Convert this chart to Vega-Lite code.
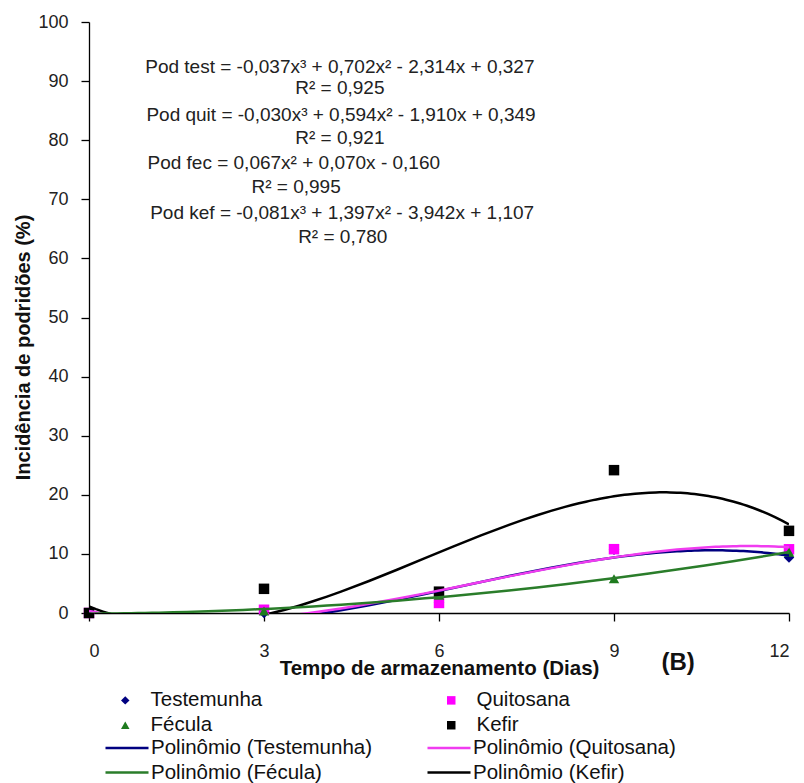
{
  "$schema": "https://vega.github.io/schema/vega-lite/v6.json",
  "width": 700,
  "height": 591,
  "autosize": {"type": "none"},
  "padding": {"left": 89, "top": 22, "right": 15, "bottom": 170},
  "background": "white",
  "config": {
    "view": {"stroke": null},
    "font": "Liberation Sans",
    "axis": {"grid": false, "domainColor": "#000", "tickColor": "#000", "labelColor": "#222", "titleColor": "#111", "domainWidth": 1.3, "tickWidth": 1.3}
  },
  "datasets": {
    "pontos": [
      {"tratamento": "Testemunha", "curva": "Polinômio (Testemunha)", "dia": 0, "podridao": 0},
      {"tratamento": "Testemunha", "curva": "Polinômio (Testemunha)", "dia": 3, "podridao": 0.02},
      {"tratamento": "Testemunha", "curva": "Polinômio (Testemunha)", "dia": 6, "podridao": 1.77},
      {"tratamento": "Testemunha", "curva": "Polinômio (Testemunha)", "dia": 9, "podridao": 10.7},
      {"tratamento": "Testemunha", "curva": "Polinômio (Testemunha)", "dia": 12, "podridao": 9.38},
      {"tratamento": "Quitosana", "curva": "Polinômio (Quitosana)", "dia": 0, "podridao": 0},
      {"tratamento": "Quitosana", "curva": "Polinômio (Quitosana)", "dia": 3, "podridao": 0.55},
      {"tratamento": "Quitosana", "curva": "Polinômio (Quitosana)", "dia": 6, "podridao": 1.7},
      {"tratamento": "Quitosana", "curva": "Polinômio (Quitosana)", "dia": 9, "podridao": 10.8},
      {"tratamento": "Quitosana", "curva": "Polinômio (Quitosana)", "dia": 12, "podridao": 10.78},
      {"tratamento": "Fécula", "curva": "Polinômio (Fécula)", "dia": 0, "podridao": 0},
      {"tratamento": "Fécula", "curva": "Polinômio (Fécula)", "dia": 3, "podridao": 0.35},
      {"tratamento": "Fécula", "curva": "Polinômio (Fécula)", "dia": 6, "podridao": 3.0},
      {"tratamento": "Fécula", "curva": "Polinômio (Fécula)", "dia": 9, "podridao": 5.8},
      {"tratamento": "Fécula", "curva": "Polinômio (Fécula)", "dia": 12, "podridao": 10.3},
      {"tratamento": "Kefir", "curva": "Polinômio (Kefir)", "dia": 0, "podridao": 0},
      {"tratamento": "Kefir", "curva": "Polinômio (Kefir)", "dia": 3, "podridao": 4.09},
      {"tratamento": "Kefir", "curva": "Polinômio (Kefir)", "dia": 6, "podridao": 3.61},
      {"tratamento": "Kefir", "curva": "Polinômio (Kefir)", "dia": 9, "podridao": 24.17},
      {"tratamento": "Kefir", "curva": "Polinômio (Kefir)", "dia": 12, "podridao": 13.9}
    ],
    "equacoes": [
      {"texto": "Pod test = -0,037x³ + 0,702x² - 2,314x + 0,327", "dia": 4.3, "valor": 92.4},
      {"texto": "R² = 0,925", "dia": 4.3, "valor": 88.8},
      {"texto": "Pod quit = -0,030x³ + 0,594x² - 1,910x + 0,349", "dia": 4.32, "valor": 84.3},
      {"texto": "R² = 0,921", "dia": 4.3, "valor": 80.4},
      {"texto": "Pod fec = 0,067x² + 0,070x - 0,160", "dia": 3.51, "valor": 76.1},
      {"texto": "R² = 0,995", "dia": 3.55, "valor": 72.1},
      {"texto": "Pod kef = -0,081x³ + 1,397x² - 3,942x + 1,107", "dia": 4.34, "valor": 67.7},
      {"texto": "R² = 0,780", "dia": 4.35, "valor": 63.6}
    ]
  },
  "layer": [
    {
      "data": {"name": "pontos"},
      "mark": {"type": "point", "filled": true, "opacity": 1, "size": 110},
      "encoding": {
        "x": {
          "field": "dia", "type": "quantitative",
          "scale": {"domain": [0, 12], "nice": false, "zero": false},
          "axis": {
            "values": [0, 3, 6, 9, 12], "format": "d", "labelFontSize": 18, "tickSize": 8, "labelPadding": 21,
            "title": "Tempo de armazenamento  (Dias)", "titleFontSize": 20.5, "titleFontWeight": "bold",
            "titleY": 55, "titleBaseline": "middle"
          }
        },
        "y": {
          "field": "podridao", "type": "quantitative",
          "scale": {"domain": [0, 100], "nice": false},
          "axis": {
            "values": [0, 10, 20, 30, 40, 50, 60, 70, 80, 90, 100], "format": "d", "labelFontSize": 18, "tickSize": 8, "labelPadding": 13,
            "title": "Incidência de podridões (%)", "titleFontSize": 20, "titleFontWeight": "bold",
            "titleX": -66, "titleY": 325, "titleBaseline": "middle", "titleAlign": "center", "titleAngle": -90
          }
        },
        "color": {
          "field": "tratamento", "type": "nominal",
          "scale": {
            "domain": ["Testemunha", "Fécula", "Quitosana", "Kefir"],
            "range": ["#000080", "#1E7B1E", "#FF00FF", "#000000"]
          },
          "legend": {
            "orient": "none", "legendX": 26, "legendY": 668, "columns": 2, "title": null,
            "symbolSize": 72, "labelFontSize": 20.5, "labelFont": "Liberation Sans", "labelColor": "#111",
            "columnPadding": 178, "rowPadding": 4, "labelOffset": 15, "labelLimit": 400
          }
        },
        "shape": {
          "field": "tratamento", "type": "nominal",
          "scale": {"domain": ["Testemunha", "Fécula", "Quitosana", "Kefir"], "range": ["diamond", "triangle-up", "square", "square"]},
          "legend": {
            "orient": "none", "legendX": 26, "legendY": 668, "columns": 2, "title": null,
            "symbolSize": 72, "labelFontSize": 20.5, "labelFont": "Liberation Sans", "labelColor": "#111",
            "columnPadding": 178, "rowPadding": 4, "labelOffset": 15, "labelLimit": 400
          }
        }
      }
    },
    {
      "data": {"name": "pontos"},
      "transform": [
        {"filter": "datum.tratamento !== 'Fécula'"},
        {"regression": "podridao", "on": "dia", "method": "poly", "order": 3, "extent": [0, 12], "groupby": ["curva"]}
      ],
      "mark": {"type": "line", "clip": true, "strokeWidth": 2.5},
      "encoding": {
        "x": {"field": "dia", "type": "quantitative"},
        "y": {"field": "podridao", "type": "quantitative"},
        "stroke": {
          "field": "curva", "type": "nominal",
          "scale": {
            "domain": ["Polinômio (Testemunha)", "Polinômio (Fécula)", "Polinômio (Quitosana)", "Polinômio (Kefir)"],
            "range": ["#000080", "#2A7D2A", "#F03CF0", "#000000"]
          },
          "legend": {
            "orient": "none", "legendX": 15, "legendY": 715.5, "columns": 2, "title": null,
            "symbolType": "stroke", "symbolSize": 1850, "symbolStrokeWidth": 2.5, "labelFontSize": 20.5, "labelFont": "Liberation Sans", "labelColor": "#111",
            "clipHeight": 21, "columnPadding": 53, "rowPadding": 3.5, "labelOffset": 1, "labelLimit": 400
          }
        }
      }
    },
    {
      "data": {"name": "pontos"},
      "transform": [
        {"filter": "datum.tratamento === 'Fécula'"},
        {"regression": "podridao", "on": "dia", "method": "poly", "order": 2, "extent": [0, 12], "groupby": ["curva"]}
      ],
      "mark": {"type": "line", "clip": true, "strokeWidth": 2.5},
      "encoding": {
        "x": {"field": "dia", "type": "quantitative"},
        "y": {"field": "podridao", "type": "quantitative"},
        "stroke": {"field": "curva", "type": "nominal"}
      }
    },
    {
      "data": {"name": "equacoes"},
      "mark": {"type": "text", "fontSize": 19, "font": "Liberation Sans", "color": "#222", "align": "center", "baseline": "middle"},
      "encoding": {
        "x": {"field": "dia", "type": "quantitative"},
        "y": {"field": "valor", "type": "quantitative"},
        "text": {"field": "texto"}
      }
    },
    {
      "data": {"values": [{"rotulo": "(B)"}]},
      "mark": {"type": "text", "fontSize": 24, "fontWeight": "bold", "font": "Liberation Sans", "color": "#111", "align": "center", "baseline": "middle"},
      "encoding": {
        "x": {"datum": 10.1, "type": "quantitative"},
        "y": {"datum": -8.5, "type": "quantitative"},
        "text": {"field": "rotulo"}
      }
    }
  ]
}
